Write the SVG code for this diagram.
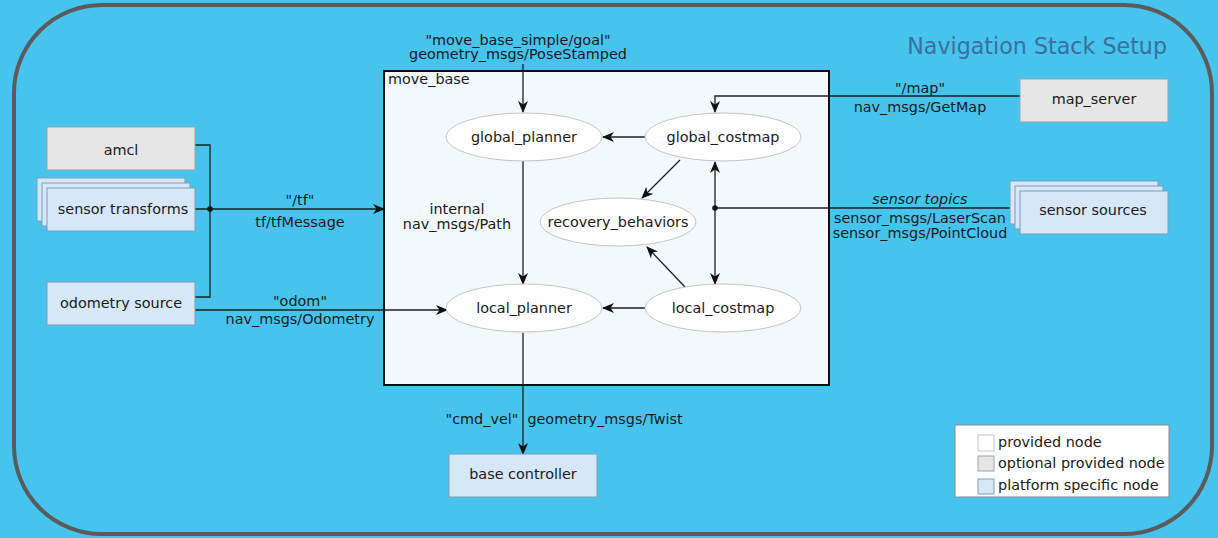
<svg xmlns="http://www.w3.org/2000/svg" width="1218" height="538" viewBox="0 0 1218 538">
  <style>
    text { font-family: "DejaVu Sans", "Liberation Sans", sans-serif; font-size: 14.4px; fill: #1a1a1a; }
    .mid { text-anchor: middle; }
    .title { font-size: 22.2px; fill: #3b6f9c; }
    .legend { font-size: 14.4px; }
    .opt { fill: #e6e6e6; stroke: #9aa3ab; stroke-width: 1; }
    .plat { fill: #d6e7f8; stroke: #7f9db8; stroke-width: 1; }
    .prov { fill: #ffffff; stroke: #c4c4c4; stroke-width: 1; }
    .wire { fill: none; stroke: #1e1e1e; stroke-width: 1.3; }
    .dot { fill: #111111; }
  </style>
  <defs>
    <marker id="arrow" viewBox="0 0 12 10" refX="11" refY="5" markerWidth="12" markerHeight="10" markerUnits="userSpaceOnUse" orient="auto-start-reverse">
      <path d="M0,0 L12,5 L0,10 L3.5,5 z" fill="#111111"/>
    </marker>
  </defs>

  <!-- background and frame -->
  <rect x="0" y="0" width="1218" height="538" fill="#46c4ee"/>
  <rect x="14" y="5" width="1198" height="529" rx="88" ry="88" fill="#46c4ee" stroke="#5b5b5b" stroke-width="4"/>
  <text class="title" x="1167" y="54" text-anchor="end">Navigation Stack Setup</text>

  <!-- move_base container -->
  <g id="move_base">
    <rect x="384" y="71" width="445" height="314" fill="#f1f9fd" stroke="#111111" stroke-width="2"/>
    <text x="388" y="84">move_base</text>
  </g>

  <!-- connectors -->
  <g id="connectors">
    <!-- goal -->
    <line class="wire" x1="523" y1="64" x2="523" y2="112" marker-end="url(#arrow)"/>
    <!-- global_costmap -> global_planner -->
    <line class="wire" x1="645" y1="137" x2="603" y2="137" marker-end="url(#arrow)"/>
    <!-- global_costmap -> recovery_behaviors -->
    <line class="wire" x1="680" y1="160" x2="642" y2="198" marker-end="url(#arrow)"/>
    <!-- global_planner -> local_planner -->
    <line class="wire" x1="523" y1="161" x2="523" y2="284" marker-end="url(#arrow)"/>
    <!-- local_costmap -> local_planner -->
    <line class="wire" x1="645" y1="308" x2="603" y2="308" marker-end="url(#arrow)"/>
    <!-- local_costmap -> recovery_behaviors -->
    <line class="wire" x1="685" y1="287" x2="647" y2="247" marker-end="url(#arrow)"/>
    <!-- sensor topics to both costmaps -->
    <line class="wire" x1="715" y1="162" x2="715" y2="284" marker-start="url(#arrow)" marker-end="url(#arrow)"/>
    <line class="wire" x1="1010" y1="208" x2="715" y2="208"/>
    <circle class="dot" cx="715" cy="208" r="2.8"/>
    <!-- map -->
    <polyline class="wire" points="1020,96 715,96 715,112" marker-end="url(#arrow)"/>
    <!-- tf -->
    <polyline class="wire" points="195,145 210,145 210,297 195,297"/>
    <line class="wire" x1="195" y1="209" x2="384" y2="209" marker-end="url(#arrow)"/>
    <circle class="dot" cx="210" cy="209" r="2.8"/>
    <!-- odom -->
    <line class="wire" x1="195" y1="310" x2="447" y2="310" marker-end="url(#arrow)"/>
    <!-- cmd_vel -->
    <line class="wire" x1="523" y1="333" x2="523" y2="454" marker-end="url(#arrow)"/>
  </g>

  <!-- connector labels -->
  <g id="labels">
    <text class="mid" x="518" y="45">"move_base_simple/goal"</text>
    <text class="mid" x="518" y="59">geometry_msgs/PoseStamped</text>
    <text class="mid" x="300" y="205">"/tf"</text>
    <text class="mid" x="300" y="227">tf/tfMessage</text>
    <text class="mid" x="457" y="214">internal</text>
    <text class="mid" x="457" y="229">nav_msgs/Path</text>
    <text class="mid" x="920" y="93">"/map"</text>
    <text class="mid" x="920" y="112">nav_msgs/GetMap</text>
    <text class="mid" x="920" y="204" font-style="italic">sensor topics</text>
    <text class="mid" x="920" y="223">sensor_msgs/LaserScan</text>
    <text class="mid" x="920" y="238">sensor_msgs/PointCloud</text>
    <text class="mid" x="300" y="306">"odom"</text>
    <text class="mid" x="300" y="324">nav_msgs/Odometry</text>
    <text class="mid" x="482" y="424">"cmd_vel"</text>
    <text class="mid" x="605" y="424">geometry_msgs/Twist</text>
  </g>

  <!-- move_base internals -->
  <g id="global_planner">
    <ellipse class="prov" cx="524" cy="137" rx="78" ry="24"/>
    <text class="mid" x="524" y="142">global_planner</text>
  </g>
  <g id="global_costmap">
    <ellipse class="prov" cx="723" cy="137" rx="78" ry="24"/>
    <text class="mid" x="723" y="142">global_costmap</text>
  </g>
  <g id="recovery_behaviors">
    <ellipse class="prov" cx="618" cy="222" rx="78" ry="24"/>
    <text class="mid" x="618" y="227">recovery_behaviors</text>
  </g>
  <g id="local_planner">
    <ellipse class="prov" cx="524" cy="308" rx="78" ry="24"/>
    <text class="mid" x="524" y="313">local_planner</text>
  </g>
  <g id="local_costmap">
    <ellipse class="prov" cx="723" cy="308" rx="78" ry="24"/>
    <text class="mid" x="723" y="313">local_costmap</text>
  </g>

  <!-- external nodes -->
  <g id="amcl">
    <rect class="opt" x="47" y="127" width="148" height="43"/>
    <text class="mid" x="121" y="155">amcl</text>
  </g>
  <g id="sensor_transforms">
    <rect class="plat" x="37" y="178" width="148" height="43"/>
    <rect class="plat" x="42" y="183" width="148" height="43"/>
    <rect class="plat" x="47" y="188" width="148" height="43"/>
    <text class="mid" x="123" y="214">sensor transforms</text>
  </g>
  <g id="odometry_source">
    <rect class="plat" x="47" y="282" width="148" height="43"/>
    <text class="mid" x="121" y="308">odometry source</text>
  </g>
  <g id="base_controller">
    <rect class="plat" x="449" y="454" width="148" height="43"/>
    <text class="mid" x="523" y="479">base controller</text>
  </g>
  <g id="map_server">
    <rect class="opt" x="1020" y="79" width="148" height="43"/>
    <text class="mid" x="1094" y="104">map_server</text>
  </g>
  <g id="sensor_sources">
    <rect class="plat" x="1010" y="181" width="148" height="43"/>
    <rect class="plat" x="1015" y="186" width="148" height="43"/>
    <rect class="plat" x="1020" y="191" width="148" height="43"/>
    <text class="mid" x="1093" y="215">sensor sources</text>
  </g>

  <!-- legend -->
  <g id="legend">
    <rect x="955" y="425" width="214" height="72" fill="#ffffff" stroke="#8a8a8a" stroke-width="1"/>
    <rect class="prov" x="978" y="435" width="16" height="16" stroke="#d0d0d0"/>
    <rect class="opt" x="978" y="456" width="16" height="15" stroke="#d0d0d0"/>
    <rect class="plat" x="978" y="479" width="16" height="15" stroke="#b8c8d8"/>
    <text class="legend" x="998" y="447">provided node</text>
    <text class="legend" x="998" y="468">optional provided node</text>
    <text class="legend" x="998" y="490">platform specific node</text>
  </g>
</svg>
